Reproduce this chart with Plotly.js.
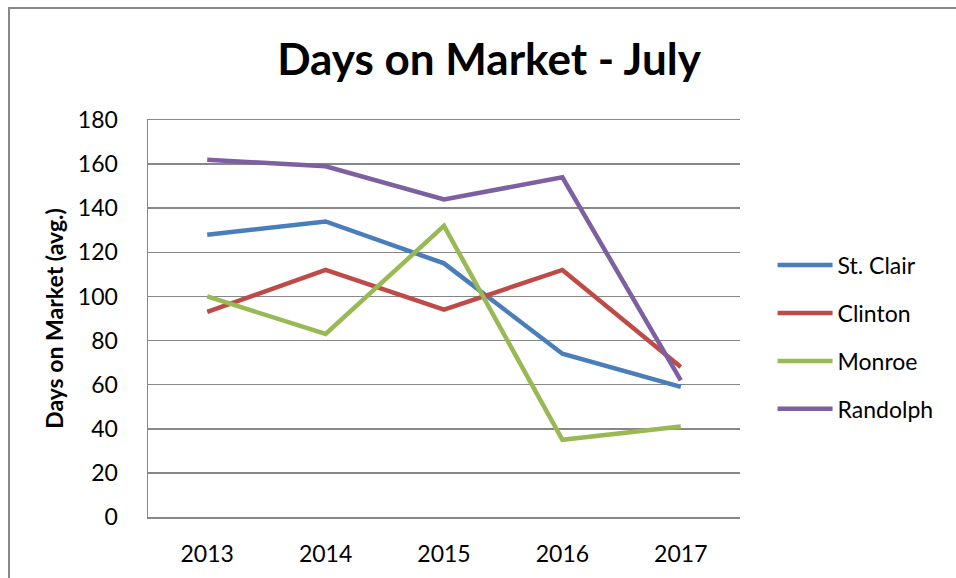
<!DOCTYPE html>
<html>
<head>
<meta charset="utf-8">
<script src="https://cdn.plot.ly/plotly-3.0.1.min.js"></script>
<style>
html,body{margin:0;padding:0;background:#fff;}
#chart{width:956px;height:578px;position:relative;}
#frame{position:absolute;left:8px;top:7px;width:2000px;height:2000px;border-left:2px solid #888;border-top:2px solid #888;pointer-events:none;}
</style>
</head>
<body>
<div id="chart"></div>
<div id="frame"></div>
<script>
const years = ["2013", "2014", "2015", "2016", "2017"];
const stClair = [128, 134, 115, 74, 59];
const clinton = [93, 112, 94, 112, 68];
const monroe = [100, 83, 132, 35, 41];
const randolph = [162, 159, 144, 154, 62];
const seriesNames = ["St. Clair", "Clinton", "Monroe", "Randolph"];
const seriesColors = ["#4A7EBB", "#BE4B48", "#98B954", "#7D60A0"];
const yTicks = [0, 20, 40, 60, 80, 100, 120, 140, 160, 180];

const allValues = [stClair, clinton, monroe, randolph];
const font = "Lato, 'Open Sans', sans-serif";

const traces = allValues.map((vals, i) => ({
  type: "scatter",
  mode: "lines",
  x: years,
  y: vals,
  name: seriesNames[i],
  legendgroup: "g" + i,
  line: {color: seriesColors[i], width: 4.5}
}));

const layout = {
  width: 956,
  height: 578,
  margin: {l: 148, r: 216, t: 120, b: 61},
  paper_bgcolor: "rgba(0,0,0,0)",
  plot_bgcolor: "#fff",
  font: {family: font, color: "#000", size: 20},
  title: {
    text: "<b>Days on Market - July</b>",
    font: {family: font, size: 44, color: "#000"},
    x: 0.5115, xref: "container", xanchor: "center",
    y: 1 - 60 / 578, yref: "container", yanchor: "middle"
  },
  xaxis: {
    type: "category",
    range: [-0.5, 4.5],
    showgrid: false,
    showline: true,
    mirror: true,
    linecolor: "#878787",
    linewidth: 1.5,
    ticks: "",
    ticklabelstandoff: 16,
    tickfont: {family: font, size: 23, color: "#000"},
    fixedrange: true
  },
  yaxis: {
    range: [0, 180],
    tickvals: yTicks,
    ticktext: yTicks.map(String),
    showgrid: true,
    gridcolor: "#878787",
    gridwidth: 1.5,
    zeroline: false,
    showline: true,
    linecolor: "#878787",
    linewidth: 1.5,
    ticks: "",
    ticklabelstandoff: 24,
    tickfont: {family: font, size: 23, color: "#000"},
    title: {
      text: "<b>Days on Market (avg.)</b>",
      font: {family: font, size: 23, color: "#000"},
      standoff: 8
    },
    fixedrange: true
  },
  showlegend: true,
  legend: {
    x: 1.055, xanchor: "left",
    y: 0.453, yanchor: "middle",
    font: {family: font, size: 23, color: "#000"},
    itemwidth: 55,
    traceorder: "grouped",
    tracegroupgap: 15,
    bgcolor: "rgba(0,0,0,0)"
  }
};

Plotly.newPlot("chart", traces, layout, {displayModeBar: false, staticPlot: true});
</script>
</body>
</html>
